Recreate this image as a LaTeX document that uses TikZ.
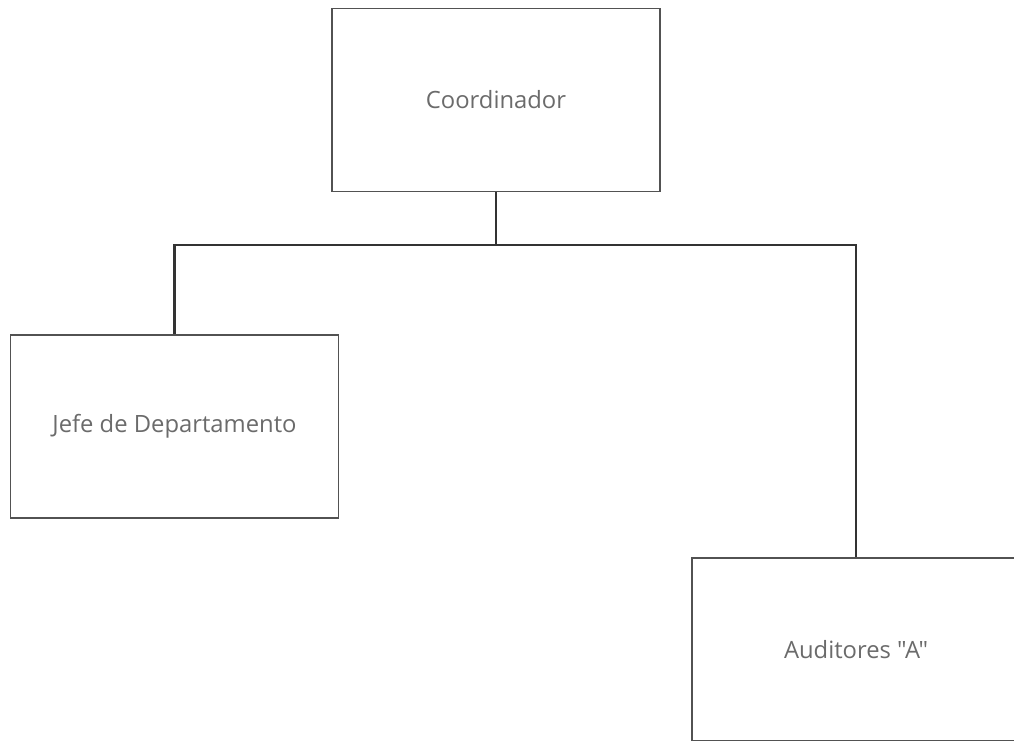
\documentclass[tikz,border=0pt]{standalone}
\usepackage{fontspec}
\setmainfont{Open Sans}[Ligatures=TeXOff]
\begin{document}
\begin{tikzpicture}[x=1pt,y=-1pt,
  orgbox/.style={draw=black!68,line width=1.3pt,fill=white,rectangle,inner sep=0pt,
    minimum width=328pt,minimum height=183pt,font=\fontsize{23.8}{27}\selectfont,text=black!58},
  conn/.style={draw=black!80,line width=2.1pt}]
\useasboundingbox (0,0) rectangle (1014,740);
\fill[white] (0,0) rectangle (1014,740);
\clip (0,0) rectangle (1014,740);
\node[orgbox] (coord) at (496,100) {\raisebox{2pt}{Coordinador}};
\node[orgbox] (jefe) at (174.5,426.5) {Jefe de Departamento};
\node[orgbox] (aud) at (856,649.5) {\raisebox{1pt}{Auditores "A"}};
\coordinate (bus) at (496,245);
\draw[conn] (coord.south) -- (bus);
\draw[conn] (jefe.north) |- (bus) -| (aud.north);
\end{tikzpicture}
\end{document}
